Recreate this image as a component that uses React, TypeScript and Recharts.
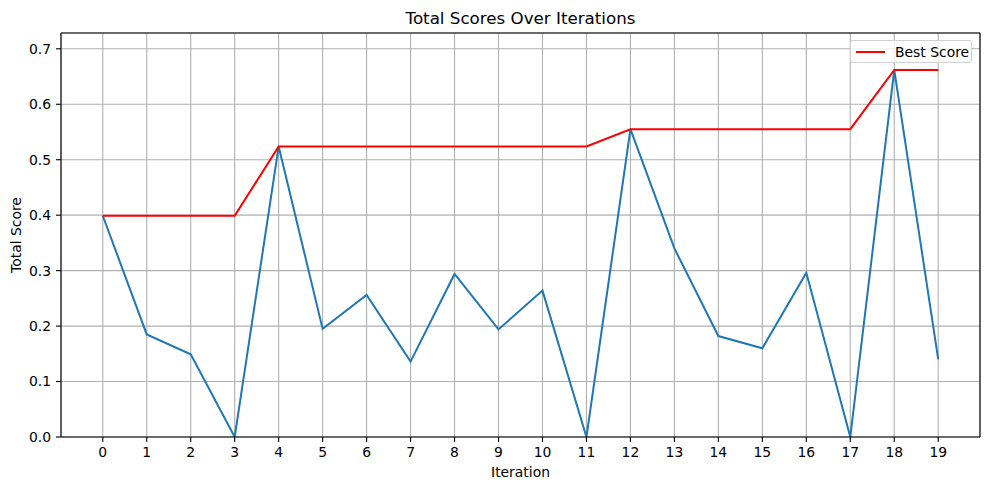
import { LineChart, Line, XAxis, YAxis, CartesianGrid, ReferenceLine, Legend, Label } from 'recharts';

const FONT = '"DejaVu Sans", sans-serif';

const iterations = [0, 1, 2, 3, 4, 5, 6, 7, 8, 9, 10, 11, 12, 13, 14, 15, 16, 17, 18, 19];
const totalScores = [0.399, 0.185, 0.149, 0.0, 0.524, 0.195, 0.256, 0.136, 0.294, 0.194, 0.264, 0.0, 0.555, 0.340, 0.182, 0.160, 0.296, 0.0, 0.662, 0.140];
const bestScores = [0.399, 0.399, 0.399, 0.399, 0.524, 0.524, 0.524, 0.524, 0.524, 0.524, 0.524, 0.524, 0.555, 0.555, 0.555, 0.555, 0.555, 0.555, 0.662, 0.662];
const yTicks = [0, 0.1, 0.2, 0.3, 0.4, 0.5, 0.6, 0.7];

const data = iterations.map((it, i) => ({ iter: it, total: totalScores[i], best: bestScores[i] }));

const X_DOMAIN: [number, number] = [-0.95, 19.95];
const Y_DOMAIN: [number, number] = [0, 0.7285];

const tickStyle = { fill: '#000', fontSize: 13.9, fontFamily: FONT };

const BestLegend = () => (
  <div
    style={{
      width: 122,
      height: 23,
      boxSizing: 'border-box',
      border: '1px solid #d0d0d0',
      borderRadius: 3,
      background: 'rgba(255,255,255,0.8)',
      display: 'flex',
      alignItems: 'center',
      fontFamily: FONT,
      fontSize: 13.9,
      color: '#000',
    }}
  >
    <div style={{ width: 29, height: 2, background: '#ff0000', marginLeft: 5, marginRight: 10 }} />
    <span>Best Score</span>
  </div>
);

const App = () => {
  return (
    <div style={{ position: 'absolute', left: 0, top: 0, width: 989, height: 490, background: '#fff' }}>
      <div
        style={{
          position: 'absolute',
          left: 0,
          width: 1041,
          top: 10,
          textAlign: 'center',
          fontFamily: FONT,
          fontSize: 16.7,
          lineHeight: 1,
          color: '#000',
        }}
      >
        Total Scores Over Iterations
      </div>
      <LineChart width={989} height={490} data={data} margin={{ top: 33, right: 9, bottom: 13, left: 0 }}>
        <CartesianGrid stroke="#b0b0b0" strokeWidth={1.1} />
        <XAxis
          dataKey="iter"
          type="number"
          domain={X_DOMAIN}
          ticks={iterations}
          allowDataOverflow
          interval={0}
          height={40}
          tick={tickStyle}
          tickSize={5}
          tickMargin={5}
          tickLine={{ stroke: '#000', strokeWidth: 1.1 }}
          axisLine={{ stroke: '#000', strokeWidth: 1.1 }}
        >
          <Label value="Iteration" position="insideBottom" offset={0.5} fill="#000" fontSize={13.9} fontFamily={FONT} />
        </XAxis>
        <YAxis
          type="number"
          domain={Y_DOMAIN}
          ticks={yTicks}
          allowDataOverflow
          width={61}
          tick={tickStyle}
          tickSize={5}
          tickMargin={5}
          tickFormatter={(v: number) => v.toFixed(1)}
          tickLine={{ stroke: '#000', strokeWidth: 1.1 }}
          axisLine={{ stroke: '#000', strokeWidth: 1.1 }}
        >
          <Label
            content={() => (
              <text
                x={20.5}
                y={235}
                transform="rotate(-90 20.5 235)"
                textAnchor="middle"
                fill="#000"
                fontSize={13.9}
                fontFamily={FONT}
              >
                Total Score
              </text>
            )}
          />
        </YAxis>
        <ReferenceLine y={Y_DOMAIN[1]} stroke="#000" strokeWidth={1.1} />
        <ReferenceLine x={X_DOMAIN[1]} stroke="#000" strokeWidth={1.1} />
        <Line
          type="linear"
          dataKey="total"
          stroke="#1f77b4"
          strokeWidth={2}
          dot={false}
          activeDot={false}
          legendType="none"
          isAnimationActive={false}
        />
        <Line
          type="linear"
          dataKey="best"
          name="Best Score"
          stroke="#ff0000"
          strokeWidth={2}
          dot={false}
          activeDot={false}
          isAnimationActive={false}
        />
        <Legend
          layout="horizontal"
          verticalAlign="middle"
          content={() => <BestLegend />}
          wrapperStyle={{ top: 40, left: 850, width: 122, height: 23 }}
        />
      </LineChart>
    </div>
  );
};

export default App;
